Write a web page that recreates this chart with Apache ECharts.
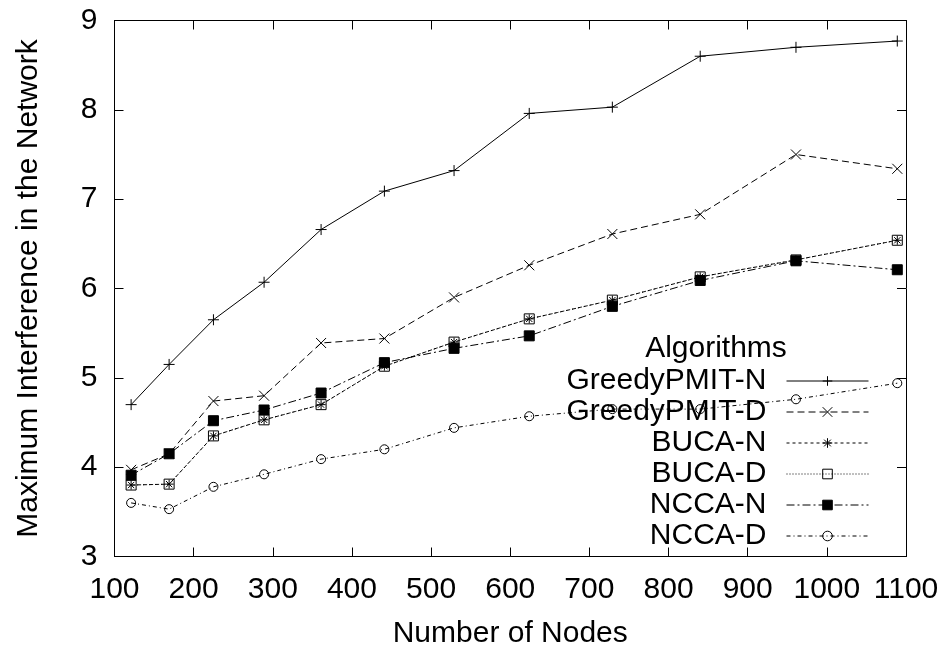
<!DOCTYPE html>
<html>
<head>
<meta charset="utf-8">
<script src="https://cdn.jsdelivr.net/npm/echarts@6/dist/echarts.min.js"></script>
<style>
  html, body { margin: 0; padding: 0; background: #fff; }
  #chart { width: 948px; height: 647px; }
</style>
</head>
<body>
<div id="chart"></div>
<script>
  // number of nodes
  const nodes = [121, 169, 225, 289, 361, 441, 529, 624, 729, 840, 961, 1089]

  const greedyN = [4.70, 5.15, 5.65, 6.07, 6.66, 7.09, 7.32, 7.96, 8.03, 8.60, 8.70, 8.77]
  const greedyD = [3.97, 4.15, 4.74, 4.80, 5.39, 5.44, 5.90, 6.26, 6.61, 6.83, 7.50, 7.34]
  const bucaN = [3.80, 3.81, 4.35, 4.53, 4.70, 5.13, 5.40, 5.66, 5.87, 6.13, 6.32, 6.54]
  const bucaD = [3.80, 3.81, 4.35, 4.53, 4.70, 5.13, 5.40, 5.66, 5.87, 6.13, 6.32, 6.54]
  const nccaN = [3.91, 4.15, 4.52, 4.64, 4.83, 5.17, 5.33, 5.47, 5.80, 6.09, 6.31, 6.21]
  const nccaD = [3.60, 3.53, 3.78, 3.92, 4.09, 4.20, 4.44, 4.57, 4.65, 4.65, 4.76, 4.94]

  const seriesNames = ['GreedyPMIT-N', 'GreedyPMIT-D', 'BUCA-N', 'BUCA-D', 'NCCA-N', 'NCCA-D']

  const font = 'Liberation Sans'
  const fs = 30

  const sym = {
    plus: 'path://M0,5L10,5M5,0L5,10',
    cross: 'path://M0,0L10,10M0,10L10,0',
    star: 'path://M0,5L10,5M5,0L5,10M1.5,1.5L8.5,8.5M1.5,8.5L8.5,1.5',
    box: 'path://M0,0L10,0L10,10L0,10Z',
    ring: 'path://M10,5A5,5 0 1 1 0,5A5,5 0 1 1 10,5Z'
  }

  function pairs(vals) {
    return nodes.map((n, i) => [n, vals[i]])
  }

  function mkSeries(name, vals, symbol, size, dash, fill) {
    return {
      name: name,
      type: 'line',
      data: pairs(vals),
      symbol: symbol,
      symbolSize: size,
      showSymbol: true,
      animation: false,
      lineStyle: { color: '#000', width: 1, type: dash },
      itemStyle: { color: fill, borderColor: '#000', borderWidth: 1 }
    }
  }

  const myChart = echarts.init(document.getElementById('chart'), null, { renderer: 'canvas' })

  const valueAxisCommon = {
    type: 'value',
    axisLine: { show: true, lineStyle: { color: '#000', width: 1 } },
    axisTick: { show: true, inside: true, length: 9, lineStyle: { color: '#000' } },
    splitLine: { show: false }
  }

  const option = {
    backgroundColor: '#fff',
    animation: false,
    grid: { left: 114.5, right: 42, top: 20.5, bottom: 90.5, outerBoundsMode: 'none', containLabel: false },
    xAxis: [{
      ...valueAxisCommon,
      position: 'bottom',
      min: 100, max: 1100, interval: 100,
      name: 'Number of Nodes',
      nameLocation: 'middle',
      nameGap: 62,
      nameTextStyle: { fontFamily: font, fontSize: fs, color: '#000' },
      axisLabel: {
        fontFamily: font, fontSize: fs, color: '#000', margin: 18,
        formatter: v => String(v)
      }
    }, {
      ...valueAxisCommon,
      position: 'top',
      min: 100, max: 1100, interval: 100,
      axisLabel: { show: false }
    }],
    yAxis: [{
      ...valueAxisCommon,
      position: 'left',
      min: 3, max: 9, interval: 1,
      name: 'Maximum Interference in the Network',
      nameLocation: 'middle',
      nameGap: 71,
      nameTextStyle: { fontFamily: font, fontSize: fs, color: '#000' },
      axisLabel: { fontFamily: font, fontSize: fs, color: '#000', margin: 17 }
    }, {
      ...valueAxisCommon,
      position: 'right',
      min: 3, max: 9, interval: 1,
      axisLabel: { show: false }
    }],
    legend: {
      orient: 'vertical',
      align: 'right',
      right: 79,
      top: 366,
      padding: 0,
      itemGap: 1,
      itemWidth: 82,
      itemHeight: 12,
      data: seriesNames,
      textStyle: { fontFamily: font, fontSize: fs, color: '#000', padding: [0, 15, 0, 0] },
      itemStyle: { borderWidth: 1 },
      lineStyle: { width: 1 }
    },
    graphic: [{
      type: 'text',
      x: 716,
      y: 349,
      style: {
        text: 'Algorithms',
        font: fs + 'px "' + font + '"',
        fill: '#000',
        textAlign: 'center',
        textVerticalAlign: 'middle'
      }
    }],
    series: [
      mkSeries(seriesNames[0], greedyN, sym.plus, 11, 'solid', 'none'),
      mkSeries(seriesNames[1], greedyD, sym.cross, 10, [7, 4], 'none'),
      mkSeries(seriesNames[2], bucaN, sym.star, 9, [3, 3], 'none'),
      mkSeries(seriesNames[3], bucaD, sym.box, 10, [1, 2], 'none'),
      mkSeries(seriesNames[4], nccaN, 'rect', 10, [8, 3, 2, 3], '#000'),
      mkSeries(seriesNames[5], nccaD, sym.ring, 9, [4, 3, 1, 3], 'none')
    ]
  }

  myChart.setOption(option)
</script>
</body>
</html>
